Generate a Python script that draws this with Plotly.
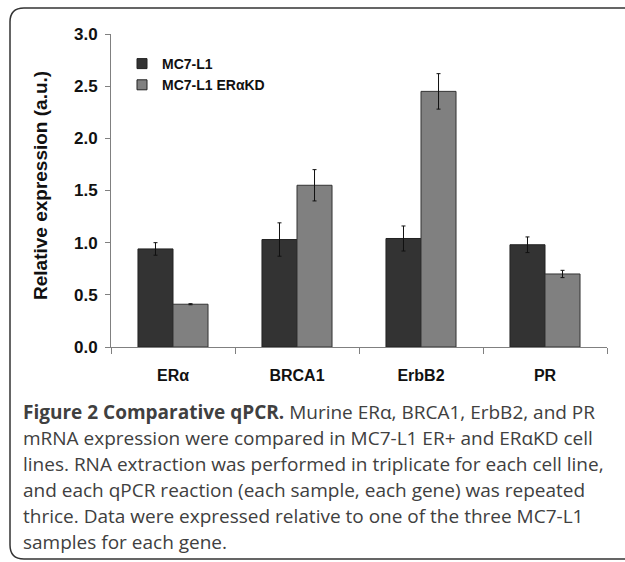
import plotly.graph_objects as go

genes = ["ERα", "BRCA1", "ErbB2", "PR"]
series_names = ["MC7-L1", "MC7-L1 ERαKD"]
mc7_values = [0.94, 1.03, 1.04, 0.98]
mc7_errors = [0.06, 0.16, 0.12, 0.075]
kd_values = [0.41, 1.55, 2.45, 0.70]
kd_errors = [0.005, 0.15, 0.17, 0.035]
y_ticks = [0.0, 0.5, 1.0, 1.5, 2.0, 2.5, 3.0]
caption_lines = [
    "<b>Figure 2 Comparative qPCR.</b> Murine ERα, BRCA1, ErbB2, and PR",
    "mRNA expression were compared in MC7-L1 ER+ and ERαKD cell",
    "lines. RNA extraction was performed in triplicate for each cell line,",
    "and each qPCR reaction (each sample, each gene) was repeated",
    "thrice. Data were expressed relative to one of the three MC7-L1",
    "samples for each gene.",
]

W, H = 625, 562
L, R, T, B = 111, 18, 34, 215
PW, PH = W - L - R, H - T - B

def px(x):
    return (x - L) / PW

def py(y):
    return (H - B - y) / PH

AX = "Arial, Liberation Sans, sans-serif"
colors = ["#333333", "#808080"]

fig = go.Figure()
fig.add_trace(go.Bar(
    name=series_names[0], x=genes, y=mc7_values, showlegend=False,
    marker=dict(color=colors[0], line=dict(color="#222222", width=1)),
    error_y=dict(type="data", array=mc7_errors, color="#111111", thickness=1, width=2),
))
fig.add_trace(go.Bar(
    name=series_names[1], x=genes, y=kd_values, showlegend=False,
    marker=dict(color=colors[1], line=dict(color="#333333", width=1)),
    error_y=dict(type="data", array=kd_errors, color="#111111", thickness=1, width=2),
))
# legend entries with small square swatches
for name, c in zip(series_names, colors):
    fig.add_trace(go.Scatter(
        name=name, x=[None], y=[None], mode="markers",
        marker=dict(symbol="square", size=10, color=c, line=dict(color="#222222", width=1)),
    ))

fig.update_layout(
    width=W, height=H,
    margin=dict(l=L, r=R, t=T, b=B),
    paper_bgcolor="white", plot_bgcolor="white",
    barmode="group", bargap=0.435, bargroupgap=0,
    font=dict(family=AX, color="#111111"),
    legend=dict(
        x=px(122), y=py(48), xanchor="left", yanchor="top",
        font=dict(family=AX, size=14, weight="bold", color="#111111"),
        bgcolor="rgba(0,0,0,0)", itemwidth=30, tracegroupgap=0,
    ),
    xaxis=dict(
        showline=True, linecolor="#808080", linewidth=1,
        ticks="outside", ticklen=6, tickcolor="#808080", tickson="boundaries",
        tickfont=dict(family=AX, size=16, weight="bold", color="#111111"),
        ticklabelstandoff=14, showgrid=False,
    ),
    yaxis=dict(
        range=[0, 3.0], tickvals=y_ticks, tickformat=".1f",
        showline=True, linecolor="#808080", linewidth=1,
        ticks="outside", ticklen=5, tickcolor="#808080",
        tickfont=dict(family=AX, size=17, weight="bold", color="#111111"),
        ticklabelstandoff=4,
        showgrid=False, zeroline=False,
    ),
)

fig.add_annotation(
    text="Relative expression (a.u.)", textangle=-90,
    xref="paper", yref="paper", x=px(40), y=py(186),
    xanchor="center", yanchor="middle", showarrow=False,
    font=dict(family=AX, size=19, weight="bold", color="#111111"),
)

line_y = [412, 438, 464, 490, 516, 542]
for txt, yy in zip(caption_lines, line_y):
    fig.add_annotation(
        text=txt, xref="paper", yref="paper", x=px(21), y=py(yy),
        xanchor="left", yanchor="middle", showarrow=False, align="left",
        font=dict(family="Open Sans, sans-serif", size=19, color="#404040"),
    )

# rounded frame
x0, y0, x1, y1, r = px(10), py(8), px(640), py(559), 14
rx, ry = r / PW, r / PH
path = (f"M {x0+rx},{y0} L {x1},{y0} L {x1},{y1} L {x0+rx},{y1} "
        f"Q {x0},{y1} {x0},{y1+ry} L {x0},{y0-ry} Q {x0},{y0} {x0+rx},{y0} Z")
fig.add_shape(type="path", path=path, xref="paper", yref="paper",
              line=dict(color="#333333", width=1.5), layer="below")

fig.write_html("out.html", config={"displayModeBar": False},
               post_script="document.body.style.margin='0';document.body.style.overflow='hidden';")
